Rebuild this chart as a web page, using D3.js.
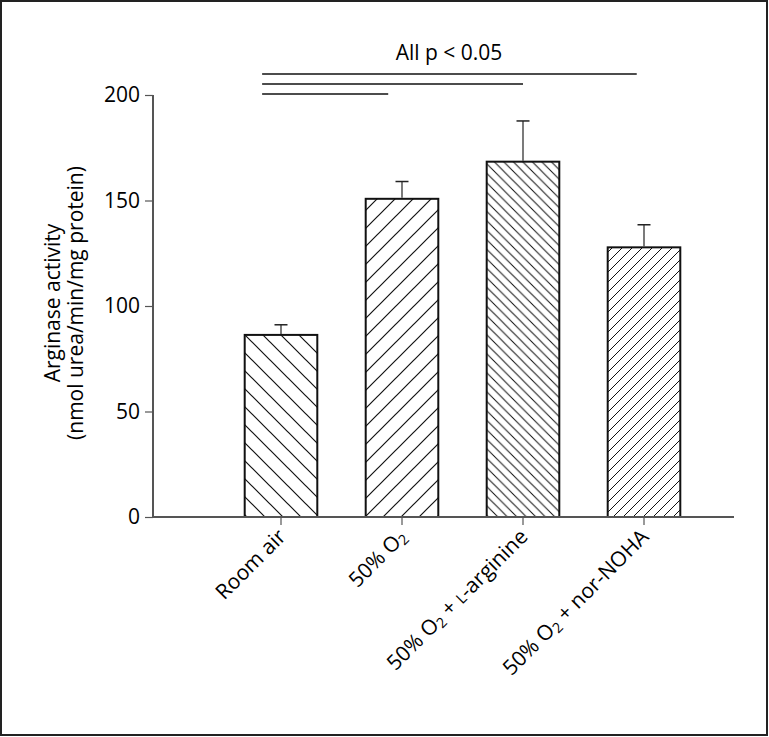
<!DOCTYPE html>
<html>
<head>
<meta charset="utf-8">
<script src="https://cdn.jsdelivr.net/npm/d3@7"></script>
<style>
  body { margin: 0; background: #fff; }
  text { font-family: "Open Sans", sans-serif; fill: #000; }
</style>
</head>
<body>
<div id="chart"></div>
<script>
// Data.
var categories = ["Room air", "50% O2", "50% O2 + L-arginine", "50% O2 + nor-NOHA"];
var means = [86.3, 150.8, 168.4, 127.8];
var errors = [4.8, 8.2, 19.3, 10.7];
var yTicks = [0, 50, 100, 150, 200];

// Significance bars: from first group to each other group.
var sigTo = ["50% O2 + nor-NOHA", "50% O2 + L-arginine", "50% O2"];
var sigLevel = [210, 205.2, 200.5];

// Hatch styles per bar.
var hatchDir = ["back", "fwd", "back", "fwd"];
var hatchGap = [18, 18, 9.5, 10];

var svgWidth = 769;
var svgHeight = 737;
var fontSize = 21;

var svg = d3.select("#chart")
  .append("svg")
  .attr("width", svgWidth)
  .attr("height", svgHeight);

// Outer frame.
svg.append("rect")
  .attr("x", 1)
  .attr("y", 1)
  .attr("width", svgWidth - 3)
  .attr("height", svgHeight - 3)
  .attr("fill", "none")
  .attr("stroke", "#222")
  .attr("stroke-width", 2);

var xScale = d3.scaleBand()
  .domain(categories)
  .range([220.5, 704.5])
  .paddingInner(0.4)
  .paddingOuter(0.2);

var yScale = d3.scaleLinear()
  .domain([0, 200])
  .range([517, 95]);

// Hatch patterns.
var defs = svg.append("defs");
categories.forEach(function(c, i) {
  var s = hatchGap[i];
  var p = defs.append("pattern")
    .attr("id", "hatch" + i)
    .attr("patternUnits", "userSpaceOnUse")
    .attr("width", s)
    .attr("height", s);
  var path;
  if (hatchDir[i] === "fwd") {
    path = `M0,${s} L${s},0 M${-s / 4},${s / 4} L${s / 4},${-s / 4} M${3 * s / 4},${5 * s / 4} L${5 * s / 4},${3 * s / 4}`;
  } else {
    path = `M0,0 L${s},${s} M${-s / 4},${3 * s / 4} L${s / 4},${5 * s / 4} M${3 * s / 4},${-s / 4} L${5 * s / 4},${s / 4}`;
  }
  p.append("rect").attr("width", s).attr("height", s).attr("fill", "#fff");
  p.append("path")
    .attr("d", path)
    .attr("stroke", "#111")
    .attr("stroke-width", s > 12 ? 1.2 : 1);
});

// Bars.
svg.selectAll(".bar")
  .data(categories)
  .enter()
  .append("rect")
  .attr("class", "bar")
  .attr("x", d => xScale(d))
  .attr("y", (d, i) => yScale(means[i]))
  .attr("width", xScale.bandwidth())
  .attr("height", (d, i) => yScale(0) - yScale(means[i]))
  .attr("fill", (d, i) => `url(#hatch${i})`)
  .attr("stroke", "#111")
  .attr("stroke-width", 2);

// Error bars (upper only).
var errG = svg.append("g");
categories.forEach(function(c, i) {
  var cx = xScale(c) + xScale.bandwidth() / 2;
  errG.append("line")
    .attr("x1", cx).attr("x2", cx)
    .attr("y1", yScale(means[i]) - 1)
    .attr("y2", yScale(means[i] + errors[i]))
    .attr("stroke", "#222")
    .attr("stroke-width", 1.2);
  errG.append("line")
    .attr("x1", cx - 6.5).attr("x2", cx + 6.5)
    .attr("y1", yScale(means[i] + errors[i]))
    .attr("y2", yScale(means[i] + errors[i]))
    .attr("stroke", "#222")
    .attr("stroke-width", 1.5);
});

// Y axis.
var leftAxis = d3.axisLeft(yScale)
  .tickValues(yTicks)
  .tickSize(8)
  .tickPadding(5);

var yAxisG = svg.append("g")
  .attr("transform", "translate(153,0)")
  .call(leftAxis);
yAxisG.select(".domain").attr("d", `M0,${yScale(200)}V${yScale(0)}`);

// X axis.
var bottomAxis = d3.axisBottom(xScale)
  .tickSize(8)
  .tickFormat("");

var xAxisG = svg.append("g")
  .attr("transform", `translate(0,${yScale(0)})`)
  .call(bottomAxis);
xAxisG.select(".domain").attr("d", "M153,0H734");

svg.selectAll(".domain")
  .attr("stroke", "#555")
  .attr("stroke-width", 2);
svg.selectAll(".tick line")
  .attr("stroke", "#555")
  .attr("stroke-width", 1.2);
yAxisG.selectAll(".tick text")
  .attr("font-size", fontSize)
  .attr("font-family", "Open Sans, sans-serif")
  .attr("fill", "#000");

// Rotated category labels with subscript 2 and small-cap L.
categories.forEach(function(c) {
  var cx = xScale(c) + xScale.bandwidth() / 2;
  var t = svg.append("text")
    .attr("transform", `translate(${cx + 6},${538}) rotate(-45)`)
    .attr("text-anchor", "end")
    .attr("font-size", fontSize);
  var parts = c.split("O2");
  if (parts.length === 1) {
    t.text(c);
    return;
  }
  t.append("tspan").text(parts[0] + "O");
  t.append("tspan").attr("font-size", fontSize * 0.68).attr("dy", 3).text("2");
  var rest = parts[1];
  if (rest.indexOf("L-") >= 0) {
    var r = rest.split("L-");
    t.append("tspan").attr("dy", -3).text(r[0]);
    t.append("tspan").attr("font-size", fontSize * 0.72).text("L");
    t.append("tspan").text("-" + r[1]);
  } else {
    t.append("tspan").attr("dy", -3).text(rest);
  }
});

// Y axis title.
var yTitle = svg.append("text")
  .attr("transform", "translate(0,303) rotate(-90)")
  .attr("text-anchor", "middle")
  .attr("font-size", fontSize);
yTitle.append("tspan").attr("x", 0).attr("y", 60).text("Arginase activity");
yTitle.append("tspan").attr("x", 0).attr("y", 83).text("(nmol urea/min/mg protein)");

// Significance lines.
var startX = xScale(categories[0]) + xScale.bandwidth() * 0.24;
var endFrac = [0.4, 0.5, 0.31];
sigTo.forEach(function(c, i) {
  svg.append("line")
    .attr("x1", startX)
    .attr("x2", xScale(c) + xScale.bandwidth() * endFrac[i])
    .attr("y1", yScale(sigLevel[i]))
    .attr("y2", yScale(sigLevel[i]))
    .attr("stroke", "#111")
    .attr("stroke-width", 1.5);
});

svg.append("text")
  .attr("x", 449)
  .attr("y", 60)
  .attr("text-anchor", "middle")
  .attr("font-size", fontSize)
  .text("All p < 0.05");
</script>
</body>
</html>
